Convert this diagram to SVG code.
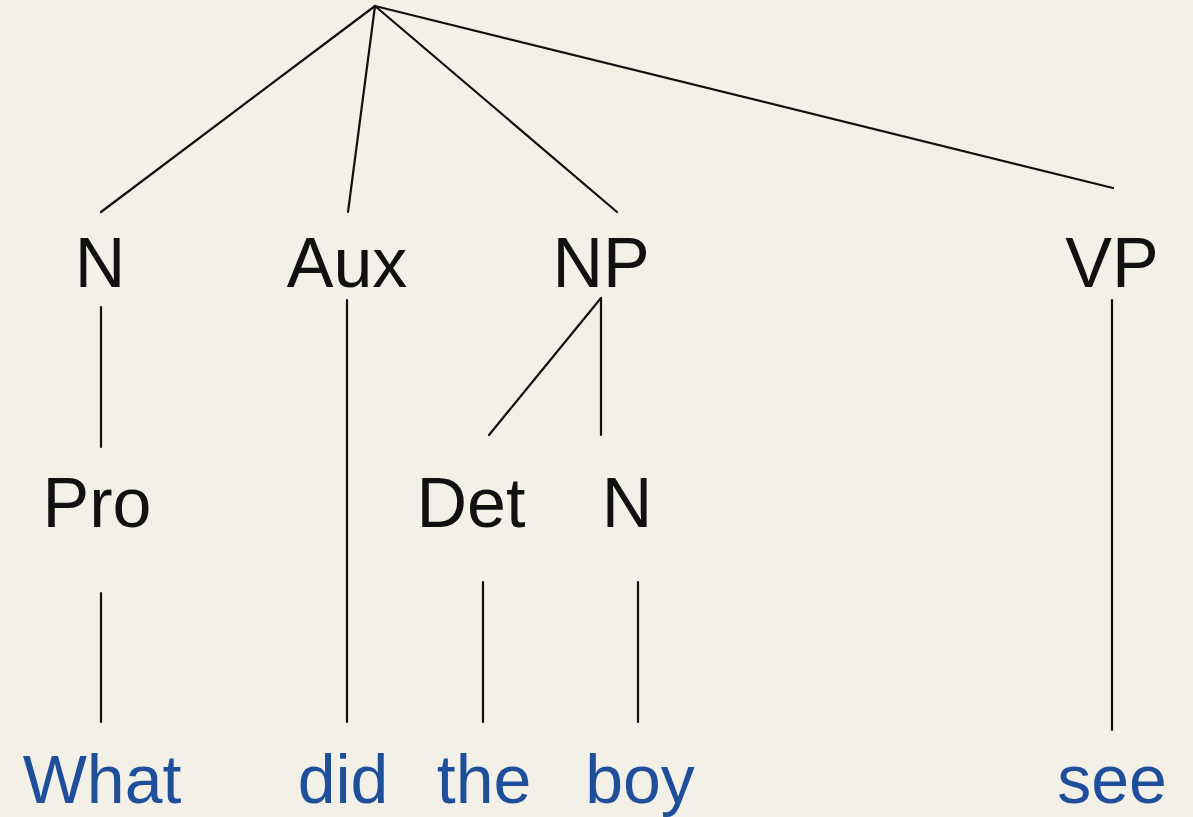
<svg xmlns="http://www.w3.org/2000/svg" width="1193" height="817" viewBox="0 0 1193 817">
<style>
.bg{fill:#f3f0e8}
.lbl{font-family:"Liberation Sans",Arial,sans-serif;font-size:70px;fill:#111;text-anchor:middle}
.wd{font-family:"Liberation Sans",Arial,sans-serif;font-size:68px;fill:#1f4f9b;text-anchor:middle}
.ln{stroke:#111;stroke-width:2.2;fill:none;stroke-linecap:round}
</style>
<rect class="bg" x="0" y="0" width="1193" height="817"/>
<g id="connectors">
<line class="ln" x1="375" y1="6" x2="101" y2="212"/>
<line class="ln" x1="375" y1="6" x2="348" y2="212"/>
<line class="ln" x1="375" y1="6" x2="617" y2="212"/>
<line class="ln" x1="375" y1="6" x2="1113" y2="188"/>
<line class="ln" x1="101" y1="307" x2="101" y2="447"/>
<line class="ln" x1="347" y1="300" x2="347" y2="722"/>
<line class="ln" x1="601" y1="298" x2="489" y2="435"/>
<line class="ln" x1="601" y1="298" x2="601" y2="435"/>
<line class="ln" x1="1112" y1="300" x2="1112" y2="730"/>
<line class="ln" x1="101" y1="593" x2="101" y2="722"/>
<line class="ln" x1="483" y1="582" x2="483" y2="722"/>
<line class="ln" x1="638" y1="582" x2="638" y2="722"/>
</g>
<g id="n-N1"><text class="lbl" x="100" y="287">N</text></g>
<g id="n-Aux"><text class="lbl" x="347" y="287">Aux</text></g>
<g id="n-NP"><text class="lbl" x="601" y="287">NP</text></g>
<g id="n-VP"><text class="lbl" x="1112" y="287">VP</text></g>
<g id="n-Pro"><text class="lbl" x="97" y="527">Pro</text></g>
<g id="n-Det"><text class="lbl" x="471" y="527">Det</text></g>
<g id="n-N2"><text class="lbl" x="627" y="527">N</text></g>
<g id="w-What"><text class="wd" x="102" y="803">What</text></g>
<g id="w-did"><text class="wd" x="343" y="803">did</text></g>
<g id="w-the"><text class="wd" x="484" y="803">the</text></g>
<g id="w-boy"><text class="wd" x="640" y="803">boy</text></g>
<g id="w-see"><text class="wd" x="1112" y="803">see</text></g>
</svg>
